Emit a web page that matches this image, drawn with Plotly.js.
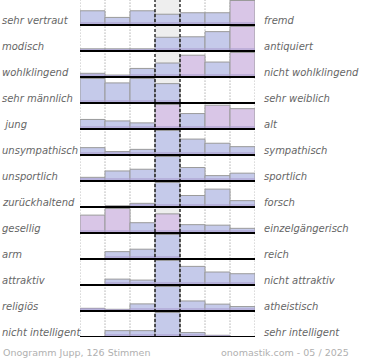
<!DOCTYPE html>
<html><head><meta charset="utf-8">
<script src="https://cdn.plot.ly/plotly-3.0.1.min.js"></script>
<style>html,body{margin:0;padding:0;background:#fff}#c{width:370px;height:360px}</style>
</head><body><div id="c"></div>
<script>
// Left / right poles of each scale
const leftLabels = ["sehr vertraut","modisch","wohlklingend","sehr männlich"," jung","unsympathisch","unsportlich","zurückhaltend","gesellig","arm","attraktiv","religiös","nicht intelligent"];
const rightLabels = ["fremd","antiquiert","nicht wohlklingend","sehr weiblich","alt","sympathisch","sportlich","forsch","einzelgängerisch","reich","nicht attraktiv","atheistisch","sehr intelligent"];
// 7-step scale positions
const steps = [1,2,3,4,5,6,7];
// Relative vote shares per row (row maximum = 100)
const r01 = [58,31,58,44,50,50,100];
const r02 = [9,9,9,56,58,79,100];
const r03 = [15,8,35,57,89,61,100];
const r04 = [100,82,100,79,0,0,0];
const r05 = [39,33,25,100,63,97,83];
const r06 = [30,14,23,100,65,48,34];
const r07 = [15,41,48,100,55,22,32];
const r08 = [2,5,15,100,47,73,26];
const r09 = [73,100,42,78,34,32,19];
const r10 = [0,30,40,100,0,0,0];
const r11 = [0,24,20,100,76,53,46];
const r12 = [11,7,29,100,41,28,18];
const r13 = [0,26,26,100,18,7,0];
const rows = [r01,r02,r03,r04,r05,r06,r07,r08,r09,r10,r11,r12,r13];
const footLeft = "Onogramm Jupp, 126 Stimmen";
const footRight = "onomastik.com - 05 / 2025";

// style config
const N = rows.length;
const ROWPX = 26, PLOTH = 337, PLOTW = 175, ML = 80;
const full = 24.5/ROWPX;          // full bar height in row units
const strip = 3.5/ROWPX;          // dark bottom strip
const pinkCells = {"0,6":1,"1,6":1,"2,4":1,"2,6":1,"4,3":1,"4,5":1,"4,6":1,"8,0":1,"8,1":1,"8,3":1};
const BLUE = "#c5caea", PINK = "#d9c6e7", DARK = "#a99cce";

const traces = [];
rows.forEach((vals, i) => {
  const base = N-1-i;
  const h = vals.map(v => v/100*full);
  traces.push({
    type:"bar", x:steps, y:h, base:steps.map(()=>base), width:1,
    marker:{color:vals.map((v,j)=>pinkCells[i+","+j]?PINK:BLUE), line:{color:"#9a9a9a", width:1}},
    hoverinfo:"skip", showlegend:false
  });
  traces.push({
    type:"bar", x:steps, y:h.map(v=>Math.min(v,strip)), base:steps.map(()=>base), width:1,
    marker:{color:DARK, line:{width:0}, opacity:0.55},
    hoverinfo:"skip", showlegend:false
  });
});

const yTop = PLOTH/ROWPX;
const shapes = [];
shapes.push({type:"rect", xref:"x", yref:"y", x0:3.5, x1:4.5, y0:0, y1:yTop, fillcolor:"#eeeeee", line:{width:0}, layer:"below"});
[0.5,1.5,2.5,5.5,6.5,7.5].forEach(x=>shapes.push({type:"line", xref:"x", yref:"y", x0:x, x1:x, y0:-0.1, y1:yTop, line:{color:"#888", width:1, dash:"1px,2px"}, layer:"below"}));
[3.5,4.5].forEach(x=>shapes.push({type:"line", xref:"x", yref:"y", x0:x, x1:x, y0:0, y1:yTop, line:{color:"#000", width:1.2, dash:"3px,2px"}, layer:"above"}));
for (let i=0;i<N;i++){
  const b = N-1-i;
  shapes.push({type:"line", xref:"x", yref:"y", x0:0.5, x1:7.5, y0:b, y1:b, line:{color:"#000", width:2}, layer:"above"});
}

const px2x = p => (p-ML)/PLOTW;
const py2y = p => (PLOTH-p)/PLOTH;
const ann = [];
const lf = {family:"DejaVu Sans", size:10, color:"#666"};
leftLabels.forEach((t,i)=>{
  const py = ROWPX*(i+1) - 1 - 4.5;
  ann.push({text:"<i>"+t+"</i>", xref:"paper", yref:"paper", x:px2x(0), y:py2y(py), xanchor:"left", yanchor:"middle", showarrow:false, font:lf});
  ann.push({text:"<i>"+rightLabels[i]+"</i>", xref:"paper", yref:"paper", x:px2x(262), y:py2y(py), xanchor:"left", yanchor:"middle", showarrow:false, font:lf});
});
const ff = {family:"DejaVu Sans", size:9.5, color:"#b0b0b0"};
ann.push({text:footLeft, xref:"paper", yref:"paper", x:px2x(1), y:py2y(352.5), xanchor:"left", yanchor:"middle", showarrow:false, font:ff});
ann.push({text:footRight, xref:"paper", yref:"paper", x:px2x(219), y:py2y(352.5), xanchor:"left", yanchor:"middle", showarrow:false, font:ff});

Plotly.newPlot("c", traces, {
  width:370, height:360,
  margin:{l:ML, r:370-ML-PLOTW, t:0, b:360-PLOTH, pad:0},
  paper_bgcolor:"#fff", plot_bgcolor:"rgba(0,0,0,0)",
  barmode:"overlay", bargap:0,
  xaxis:{range:[0.5,7.5], showgrid:false, zeroline:false, showticklabels:false, ticks:"", fixedrange:true},
  yaxis:{range:[0,yTop], showgrid:false, zeroline:false, showticklabels:false, ticks:"", fixedrange:true},
  shapes:shapes, annotations:ann
}, {staticPlot:true, displayModeBar:false});
</script></body></html>
